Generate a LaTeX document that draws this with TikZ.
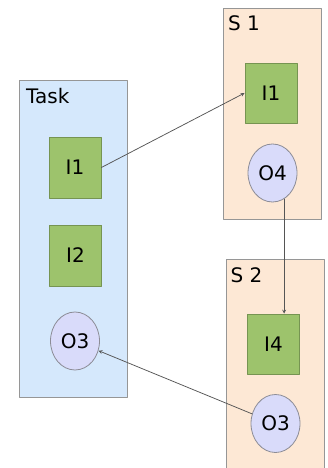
\documentclass[tikz,border=0pt]{standalone}
\usepackage{fontspec}
\setmainfont{DejaVu Sans}
\usepackage{tikz}
\usetikzlibrary{arrows,calc,shapes.geometric}
\definecolor{taskfill}{RGB}{213,232,252}
\definecolor{subfill}{RGB}{253,232,213}
\definecolor{grpline}{RGB}{150,150,150}
\definecolor{infill}{RGB}{157,195,108}
\definecolor{inline}{RGB}{118,148,82}
\definecolor{outfill}{RGB}{217,219,250}
\definecolor{outline}{RGB}{140,140,150}
\definecolor{arrline}{RGB}{85,85,85}

\begin{document}
\begin{tikzpicture}[x=1pt, y=-1pt, font=\fontsize{20}{24}\selectfont, line join=round, line cap=round, >=stealth,
		grp/.style={draw=grpline, line width=0.8pt, inner sep=0pt, minimum width=98pt, minimum height=211pt},
		lbl/.style={anchor=base west, inner sep=0pt},
		inbox/.style={draw=inline, fill=infill, line width=0.8pt, minimum width=52pt, minimum height=61pt, inner sep=0pt},
		outell/.style={ellipse, draw=outline, fill=outfill, line width=0.8pt, minimum width=49pt, minimum height=58pt, inner sep=0pt},
		conn/.style={->, draw=arrline, line width=0.75pt}]
			\useasboundingbox (0,0) rectangle (327,468);
			\clip (0,0) rectangle (327,468);
			\node[grp, fill=taskfill, minimum width=108pt, minimum height=317pt] (task) at (73,238.5) {};
			\node[grp, fill=subfill] (sone) at (272,113.5) {};
			\node[grp, fill=subfill, minimum height=216pt] (stwo) at (275,367) {};
			\node[lbl] (tasklbl) at (26,103) {Task};
			\node[lbl] (sonelbl) at (228,30.5) {S 1};
			\node[lbl] (stwolbl) at (230.5,282.5) {S 2};
			\node[inbox] (tI1) at (75,167.5) {I1};
			\node[inbox] (tI2) at (75.5,255.5) {I2};
			\node[outell] (tO3) at (75,341) {O3};
			\node[inbox, minimum height=60pt] (sI1) at (271,93) {I1};
			\node[outell] (sO4) at (272.5,173) {O4};
			\node[inbox, minimum height=60pt] (sI4) at (273.5,344) {I4};
			\node[outell] (sO3) at (275.5,423.5) {O3};
			\draw[conn] (tI1.east) -- (sI1.west);
			\draw[conn] (sO4.-66) -- (sO4.-66 |- sI4.north);
			\draw[conn] (sO3) -- (tO3);
		\end{tikzpicture}
\end{document}
